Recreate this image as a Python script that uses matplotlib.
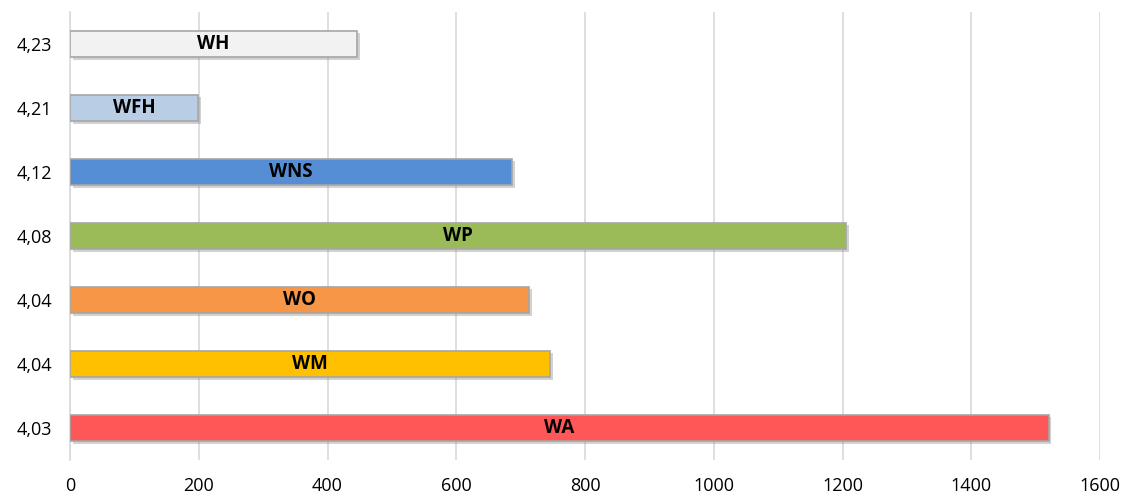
import matplotlib
matplotlib.use("Agg")
import matplotlib.pyplot as plt
import matplotlib.patheffects as pe

categories = ["4,03", "4,04", "4,04", "4,08", "4,12", "4,21", "4,23"]
names = ["WA", "WM", "WO", "WP", "WNS", "WFH", "WH"]
values = [1520, 746, 713, 1206, 687, 199, 446]
colors = ["#ff5757", "#ffc000", "#f79646", "#9bbb59", "#558ed5", "#b9cde5", "#f2f2f2"]
xticks = [0, 200, 400, 600, 800, 1000, 1200, 1400, 1600]

plt.rcParams['font.family'] = ['Open Sans', 'DejaVu Sans']

W, H = 1124, 497
fig = plt.figure(figsize=(W / 100, H / 100), dpi=100)
ax = fig.add_axes([70 / W, (H - 460) / H, (1100 - 70) / W, (460 - 12) / H])

ypos = list(range(len(categories)))
bars = ax.barh(ypos, values, height=0.42, color=colors, edgecolor="#a6a6a6",
               linewidth=1.2, zorder=3)
for b in bars:
    b.set_path_effects([pe.SimplePatchShadow(offset=(2, -2), shadow_rgbFace="#808080", alpha=0.35),
                        pe.Normal()])
for y, v, n in zip(ypos, values, names):
    ax.text(v / 2, y, n, ha="center", va="center", fontsize=13.5, fontweight="bold",
            color="black", zorder=4)

ax.set_xlim(0, 1600)
ax.set_ylim(-0.5, len(categories) - 0.5)
ax.set_xticks(xticks)
ax.set_xticklabels([str(t) for t in xticks], fontsize=13)
ax.set_yticks(ypos)
ax.set_yticklabels(categories, fontsize=13)
ax.tick_params(axis="both", length=0, colors="black")
ax.tick_params(axis="x", pad=12)
ax.tick_params(axis="y", pad=13)
ax.grid(axis="x", color="#d9d9d9", linewidth=1.2, zorder=0)
ax.set_axisbelow(True)
for s in ["top", "right", "bottom"]:
    ax.spines[s].set_visible(False)
ax.spines["left"].set_color("#d9d9d9")
ax.spines["left"].set_linewidth(1.2)

fig.savefig("out.png", dpi=100)
